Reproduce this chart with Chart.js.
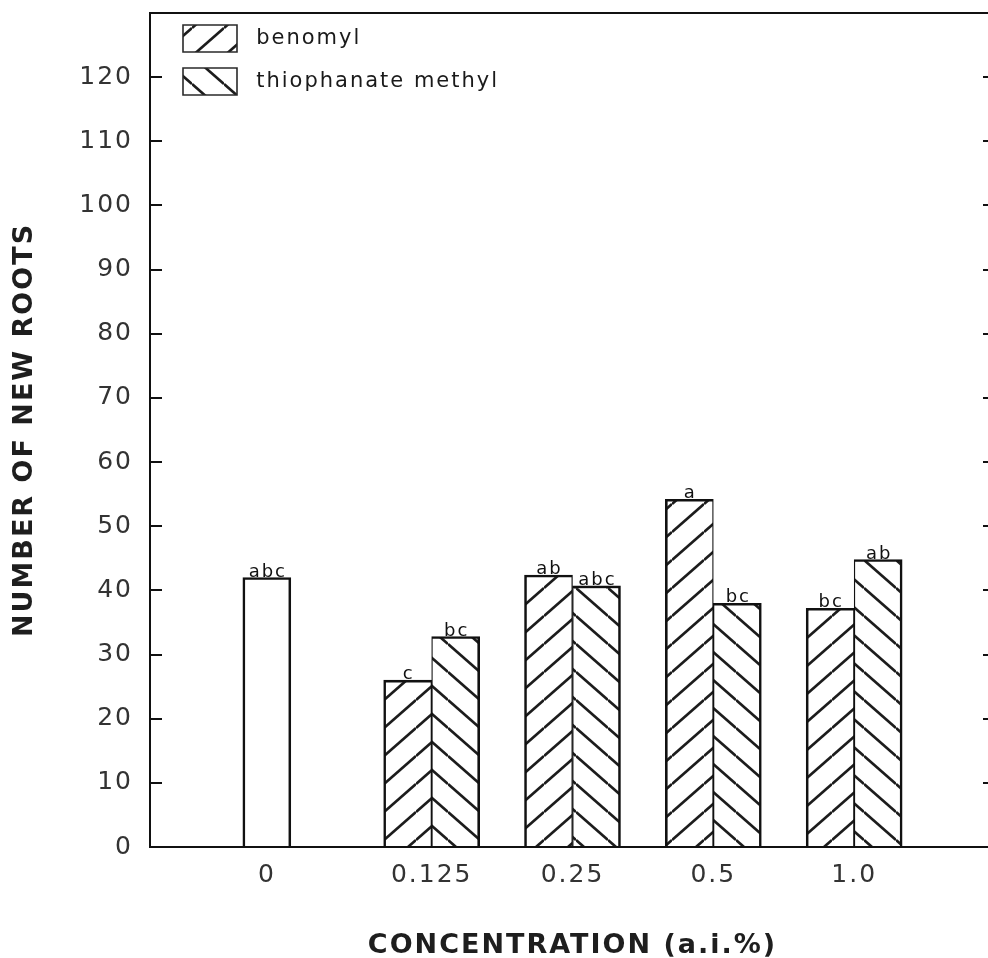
<!DOCTYPE html>
<html>
<head>
<meta charset="utf-8">
<title>Number of new roots</title>
<script src="https://cdn.jsdelivr.net/npm/chart.js@4.4.1/dist/chart.umd.min.js"></script>
<style>
  html, body { margin: 0; padding: 0; background: #fff; overflow: hidden; }
  canvas { display: block; }
</style>
</head>
<body>
<canvas id="roots" width="1000" height="958"></canvas>
<script>
// Concentrations (a.i. %) shown on the x axis
const concentrations = ['0', '0.125', '0.25', '0.5', '1.0'];

// Untreated control (0 %)
const controlRoots = [42.0];
const controlLetters = ['abc'];

// Treated cuttings, one value per non-zero concentration
const benomylRoots = [26.0, 42.4, 54.2, 37.2];
const benomylLetters = ['c', 'ab', 'a', 'bc'];
const thiophanateRoots = [32.8, 40.7, 38.0, 44.8];
const thiophanateLetters = ['bc', 'abc', 'bc', 'ab'];

// Y axis
const yTickValues = [0, 10, 20, 30, 40, 50, 60, 70, 80, 90, 100, 110, 120];
const yMax = 130;

// ---- layout ----
const FONT = '"DejaVu Sans", "Liberation Sans", sans-serif';
const BAR = 48;                 // bar thickness, px
const PLOT_LEFT = 150, PLOT_RIGHT = 995, PLOT_TOP = 13, PLOT_BOTTOM = 847;
const SLOTS = 6;                // x axis runs over 6 slots; concentrations sit at 1..5
const slotPx = (PLOT_RIGHT - PLOT_LEFT) / SLOTS;
const halfBarUnits = (BAR / 2) / slotPx;
// the control bar fills the left half of its slot
const controlX = 1 - halfBarUnits;
const xTickPositions = concentrations.map((c, i) => (i === 0 ? controlX : i + 1));

const canvas = document.getElementById('roots');
const ctx2d = canvas.getContext('2d');

function hatch(rising) {
  const w = 32, h = 28;
  const tile = document.createElement('canvas');
  tile.width = w; tile.height = h;
  const g = tile.getContext('2d');
  g.fillStyle = '#ffffff';
  g.fillRect(0, 0, w, h);
  g.strokeStyle = '#1c1c1c';
  g.lineWidth = 2.7;
  for (let k = -1; k <= 1; k++) {
    g.beginPath();
    if (rising) {
      g.moveTo(0, h + k * h);
      g.lineTo(w, k * h);
    } else {
      g.moveTo(0, k * h);
      g.lineTo(w, h + k * h);
    }
    g.stroke();
  }
  return ctx2d.createPattern(tile, 'repeat');
}

const benomylFill = hatch(true);
const thiophanateFill = hatch(false);

// letter spacing of the plotter lettering
const letterSpacing = {
  id: 'letterSpacing',
  beforeUpdate(chart) { chart.ctx.letterSpacing = '2px'; },
  beforeDraw(chart) { chart.ctx.letterSpacing = '2px'; }
};

// legend sits in the upper-left corner of the plot frame
const legendInside = {
  id: 'legendInside',
  afterLayout(chart) {
    const lg = chart.legend;
    const a = chart.chartArea;
    if (!lg) return;
    const w = lg.width, h = lg.height;
    lg.left = a.left + 17;
    lg.top = a.top - 4;
    lg.right = lg.left + w;
    lg.bottom = lg.top + h;
  }
};

// mean-separation letters above each bar
const barLetters = {
  id: 'barLetters',
  afterDatasetsDraw(chart) {
    const ctx = chart.ctx;
    ctx.save();
    ctx.letterSpacing = '2px';
    ctx.font = '18px ' + FONT;
    ctx.fillStyle = '#111';
    ctx.textAlign = 'center';
    ctx.textBaseline = 'alphabetic';
    chart.data.datasets.forEach((ds, di) => {
      const meta = chart.getDatasetMeta(di);
      meta.data.forEach((bar, i) => {
        ctx.fillText(ds.letters[i], bar.x + 1, bar.y - 1);
      });
    });
    ctx.restore();
  }
};

const keepTicks = scale => {
  scale.ticks = yTickValues.map(v => ({ value: v }));
};
const noEdgePadding = scale => {
  scale.paddingTop = 0; scale.paddingBottom = 0;
  scale.paddingLeft = 0; scale.paddingRight = 0;
};

const yGrid = {
  display: true,
  drawOnChartArea: false,
  drawTicks: true,
  tickLength: -12,
  color: '#111',
  lineWidth: 2
};
const frameBorder = { display: true, color: '#111', width: 2 };

Chart.defaults.font.family = FONT;

new Chart(ctx2d, {
  type: 'bar',
  data: {
    datasets: [
      {
        label: 'control',
        letters: controlLetters,
        data: controlRoots.map(v => ({ x: controlX, y: v })),
        grouped: false,
        barThickness: BAR,
        backgroundColor: '#ffffff',
        borderColor: '#111',
        borderWidth: { top: 2.6, left: 2.6, right: 2.6, bottom: 0 },
        borderSkipped: false,
        xAxisID: 'x', yAxisID: 'y'
      },
      {
        label: 'benomyl',
        letters: benomylLetters,
        data: benomylRoots.map((v, i) => ({ x: i + 2, y: v })),
        barThickness: BAR,
        backgroundColor: benomylFill,
        borderColor: '#111',
        borderWidth: { top: 2.6, left: 2.6, right: 1.3, bottom: 0 },
        borderSkipped: false,
        xAxisID: 'x', yAxisID: 'y'
      },
      {
        label: 'thiophanate methyl',
        letters: thiophanateLetters,
        data: thiophanateRoots.map((v, i) => ({ x: i + 2, y: v })),
        barThickness: BAR,
        backgroundColor: thiophanateFill,
        borderColor: '#111',
        borderWidth: { top: 2.6, left: 1.3, right: 2.6, bottom: 0 },
        borderSkipped: false,
        xAxisID: 'x', yAxisID: 'y'
      }
    ]
  },
  options: {
    responsive: false,
    animation: false,
    events: [],
    layout: { padding: { top: PLOT_TOP, right: 1000 - PLOT_RIGHT, left: 0, bottom: 0 } },
    plugins: {
      tooltip: { enabled: false },
      legend: {
        position: 'chartArea',
        align: 'start',
        fullSize: false,
        labels: {
          boxWidth: 54,
          boxHeight: 27,
          padding: 16,
          color: '#1a1a1a',
          font: { size: 21, family: FONT },
          filter: item => item.datasetIndex !== 0,
          generateLabels(chart) {
            return Chart.defaults.plugins.legend.labels.generateLabels(chart).map(item => ({
              ...item,
              text: ' ' + item.text,
              lineWidth: 1.6,
              strokeStyle: '#2a2a2a'
            }));
          }
        }
      }
    },
    scales: {
      x: {
        type: 'linear',
        position: 'bottom',
        min: 0,
        max: SLOTS,
        offset: false,
        afterBuildTicks: scale => { scale.ticks = xTickPositions.map(v => ({ value: v })); },
        afterFit: scale => { noEdgePadding(scale); scale.height = 958 - PLOT_BOTTOM; },
        grid: { display: false, drawTicks: false, offset: false },
        border: frameBorder,
        ticks: {
          autoSkip: false,
          maxRotation: 0,
          padding: 13,
          color: '#333',
          font: { size: 25, family: FONT },
          callback: (v, i) => concentrations[i]
        },
        title: {
          display: true,
          text: 'CONCENTRATION (a.i.%)',
          color: '#1e1e1e',
          font: { size: 27, weight: 'bold', family: FONT, lineHeight: 0.9 },
          padding: { top: 0, bottom: 0 }
        }
      },
      x2: {
        type: 'linear',
        position: 'top',
        min: 0,
        max: SLOTS,
        offset: false,
        afterFit: scale => { noEdgePadding(scale); scale.height = 0; },
        grid: { display: false, drawTicks: false, offset: false },
        border: frameBorder,
        ticks: { display: false }
      },
      y: {
        type: 'linear',
        position: 'left',
        min: 0,
        max: yMax,
        afterBuildTicks: keepTicks,
        afterFit: scale => { noEdgePadding(scale); scale.width = PLOT_LEFT; },
        grid: yGrid,
        border: frameBorder,
        ticks: {
          padding: 29,
          color: '#333',
          font: { size: 25, family: FONT }
        },
        title: {
          display: true,
          text: 'NUMBER OF NEW ROOTS',
          color: '#1e1e1e',
          font: { size: 27, weight: 'bold', family: FONT, lineHeight: 1 },
          padding: { top: 11, bottom: 0 }
        }
      },
      y2: {
        type: 'linear',
        position: 'right',
        min: 0,
        max: yMax,
        afterBuildTicks: keepTicks,
        afterFit: scale => { noEdgePadding(scale); scale.width = 0; },
        grid: yGrid,
        border: frameBorder,
        ticks: { display: false }
      }
    }
  },
  plugins: [letterSpacing, legendInside, barLetters]
});
</script>
</body>
</html>
